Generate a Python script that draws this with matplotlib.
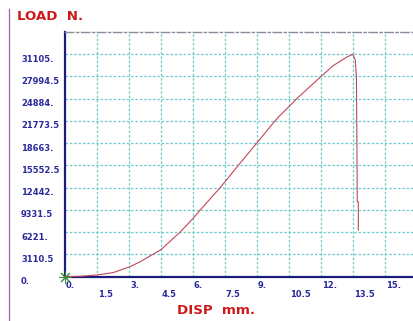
import matplotlib

matplotlib.use("Agg")

import matplotlib.transforms as mtransforms
from matplotlib import pyplot as plt
from matplotlib.lines import Line2D

# load-displacement record (mm, N)
disp_mm = [0.0, 0.75, 1.5, 2.27, 3.03, 3.5, 3.98, 4.5, 5.39, 6.02, 6.33, 7.27,
           8.12, 8.98, 9.84, 10.08, 10.47, 10.86, 12.0, 12.58, 13.2, 13.48,
           13.6, 13.66, 13.68, 13.70, 13.75, 13.75]
load_n = [0, 60, 240, 580, 1390, 2050, 2890, 3780, 6221, 8200, 9300, 12442,
          15552, 18663, 21773, 22550, 23700, 24884, 27994, 29530, 30690, 31105,
          30400, 28000, 20000, 10460, 10460, 6500]

x_ticks = [0.0, 1.5, 3.0, 4.5, 6.0, 7.5, 9.0, 10.5, 12.0, 13.5, 15.0]
x_labels = ["0.", "1.5", "3.", "4.5", "6.", "7.5", "9.", "10.5", "12.", "13.5", "15."]
y_ticks = [0.0, 3110.5, 6221.0, 9331.5, 12442.0, 15552.5, 18663.0, 21773.5,
           24884.0, 27994.5, 31105.0]
y_labels = ["0.", "3110.5", "6221.", "9331.5", "12442.", "15552.5", "18663.",
            "21773.5", "24884.", "27994.5", "31105."]

NAVY = "#1c1c7c"
LABEL_BLUE = "#2a2a9c"
RED = "#cc1a1a"
GRID = "#6ccccc"

fig = plt.figure(figsize=(4.14, 3.21), dpi=100)
fig.patch.set_facecolor("white")
ax = fig.add_axes([65 / 414, 44.3 / 321, 1 - 65 / 414, (276.7 - 32) / 321])
ax.set_xlim(0, 349 / (32 / 1.5))
ax.set_ylim(0, 11 * 3110.5)

ax.spines["right"].set_visible(False)
ax.spines["top"].set_color("#8a8a9a")
ax.spines["top"].set_linewidth(1.0)
ax.spines["top"].set_linestyle((0, (6, 2, 1.5, 2)))
for spine in ("left", "bottom"):
    ax.spines[spine].set_color(NAVY)
    ax.spines[spine].set_linewidth(1.6)

ax.set_xticks([])
ax.set_yticks([])
for xv in x_ticks[1:]:
    ax.axvline(xv, color=GRID, linewidth=0.9, linestyle=(0, (2, 1.5)), zorder=1)
for yv in y_ticks[1:]:
    ax.axhline(yv, color=GRID, linewidth=0.9, linestyle=(0, (2, 1.5)), zorder=1)

ax.plot(disp_mm, load_n, color="#c04858", linewidth=0.8, zorder=3)
ax.plot([0], [0], marker=(8, 2, 0), markersize=9, color="#3a8a3a",
        markeredgewidth=0.7, clip_on=False, zorder=4)

# y tick labels, left aligned near the figure edge
ytrans = mtransforms.blended_transform_factory(fig.transFigure, ax.transData)
ytrans = ytrans + mtransforms.ScaledTranslation(0, -5 / 100, fig.dpi_scale_trans)
for yv, lab in zip(y_ticks, y_labels):
    fig.text(21 / 414, yv, lab, transform=ytrans, ha="left", va="center",
             color=LABEL_BLUE, fontsize=6, fontweight="bold")

# x tick labels in two staggered rows
for i, (xv, lab) in enumerate(zip(x_ticks, x_labels)):
    drop = 9.3 if i % 2 == 0 else 17.8
    xtrans = ax.get_xaxis_transform() + mtransforms.ScaledTranslation(
        1 / 100, -drop / 100, fig.dpi_scale_trans)
    ax.text(xv, 0, lab, transform=xtrans, ha="left", va="center",
            color=LABEL_BLUE, fontsize=6, fontweight="bold", clip_on=False)

fig.text(17 / 414, 1 - 16 / 321, "LOAD  N.", ha="left", va="center",
         color=RED, fontsize=9.6, fontweight="bold")
fig.text(177 / 414, 1 - 310.5 / 321, "DISP  mm.", ha="left", va="center",
         color=RED, fontsize=9.6, fontweight="bold")

fig.add_artist(Line2D([8.5 / 414, 8.5 / 414], [0, 1 - 9 / 321],
                      transform=fig.transFigure, color="#a060a8", linewidth=0.9))

fig.savefig("out.png", dpi=100, facecolor=fig.get_facecolor())
